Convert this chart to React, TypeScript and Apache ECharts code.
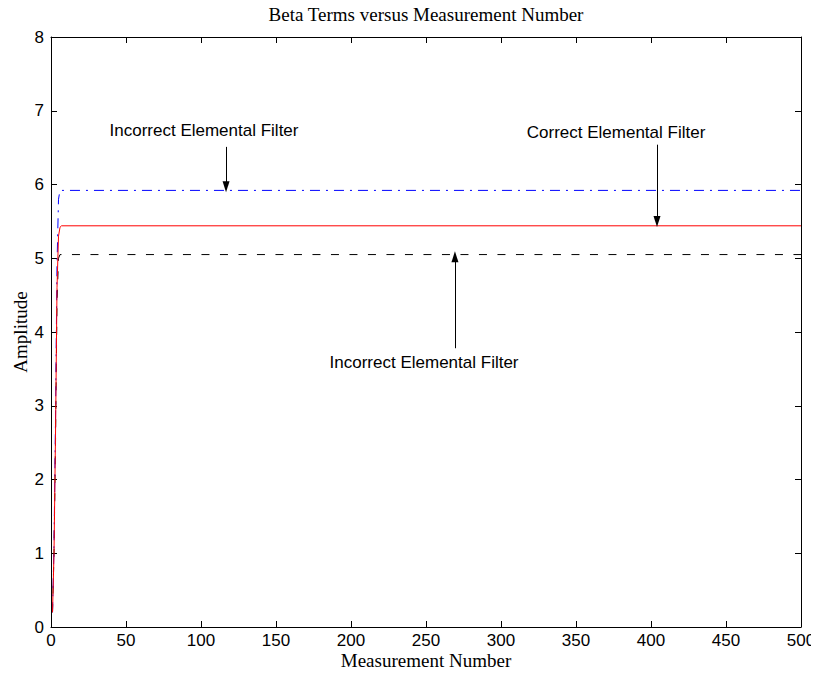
import React, { useEffect, useRef } from "react";
import * as echarts from "echarts";

// Data (measurement number, amplitude)
const correctFilter: [number, number][] = [
  [1, 0.2], [2, 1.0], [3, 2.6], [4, 4.6], [5, 5.3], [6, 5.42], [7, 5.44], [500, 5.44],
];
const incorrectHigh: [number, number][] = [
  [1, 0.2], [2, 1.1], [3, 2.8], [4, 4.9], [5, 5.8], [6, 5.92], [500, 5.92],
];
const incorrectLow: [number, number][] = [
  [1, 0.2], [2, 1.0], [3, 2.5], [4, 4.4], [5, 5.0], [6, 5.05], [500, 5.05],
];

const xTicks = { min: 0, max: 500, interval: 50 };
const yTicks = { min: 0, max: 8, interval: 1 };
const xAxisName = "Measurement Number";
const yAxisName = "Amplitude";
const chartTitle = "Beta Terms versus Measurement Number";

// Annotations: text label positions and arrows (data coords)
const annotationTexts: { text: string; x: number; y: number }[] = [
  { text: "Incorrect Elemental Filter", x: 102, y: 6.73 },
  { text: "Correct Elemental Filter", x: 376.7, y: 6.7 },
  { text: "Incorrect Elemental Filter", x: 248.7, y: 3.58 },
];
const arrows: { x: number; from: number; to: number }[] = [
  { x: 116.7, from: 6.51, to: 5.97 },
  { x: 404, from: 6.54, to: 5.5 },
  { x: 269.3, from: 3.78, to: 5.02 },
];

const SANS = "'Liberation Sans', Arial, sans-serif";
const SERIF = "'Liberation Serif', 'Times New Roman', serif";

export default function App() {
  const ref = useRef<HTMLDivElement>(null);
  useEffect(() => {
    if (!ref.current) return;
    const chart = echarts.init(ref.current, null, { renderer: "svg" });
    const tickStyle = { lineStyle: { color: "#000", width: 1 } };
    const option: any = {
      animation: false,
      backgroundColor: "#fff",
      grid: { left: 51, right: 18, top: 37, bottom: 48, containLabel: false, outerBoundsMode: "none" },
      xAxis: [
        {
          type: "value",
          ...xTicks,
          position: "bottom",
          axisLine: { show: true, onZero: false, lineStyle: { color: "#000", width: 1 } },
          axisTick: { show: true, inside: true, length: 6, ...tickStyle },
          axisLabel: { color: "#000", fontFamily: SANS, fontSize: 17, margin: 5 },
          splitLine: { show: false },
        },
        {
          type: "value",
          ...xTicks,
          position: "top",
          axisLine: { show: true, onZero: false, lineStyle: { color: "#000", width: 1 } },
          axisTick: { show: true, inside: true, length: 6, ...tickStyle },
          axisLabel: { show: false },
          splitLine: { show: false },
        },
      ],
      yAxis: [
        {
          type: "value",
          ...yTicks,
          position: "left",
          axisLine: { show: true, onZero: false, lineStyle: { color: "#000", width: 1 } },
          axisTick: { show: true, inside: true, length: 6, ...tickStyle },
          axisLabel: { color: "#000", fontFamily: SANS, fontSize: 17, margin: 7 },
          splitLine: { show: false },
        },
        {
          type: "value",
          ...yTicks,
          position: "right",
          axisLine: { show: true, onZero: false, lineStyle: { color: "#000", width: 1 } },
          axisTick: { show: true, inside: true, length: 6, ...tickStyle },
          axisLabel: { show: false },
          splitLine: { show: false },
        },
      ],
      series: [
        {
          name: "Incorrect (low)",
          type: "line",
          data: incorrectLow,
          showSymbol: false,
          lineStyle: { color: "#000", width: 1, type: [8, 10.5] },
          z: 2,
        },
        {
          name: "Incorrect (high)",
          type: "line",
          data: incorrectHigh,
          showSymbol: false,
          lineStyle: { color: "#0000ff", width: 1, type: [10, 6, 2, 6] },
          z: 3,
        },
        {
          name: "Correct",
          type: "line",
          data: correctFilter,
          showSymbol: false,
          lineStyle: { color: "#ff0000", width: 1 },
          z: 4,
        },
        {
          name: "arrows",
          type: "line",
          data: [],
          markLine: {
            silent: true,
            animation: false,
            label: { show: false },
            lineStyle: { color: "#000", width: 1, type: "solid" },
            data: arrows.map((a) => [
              { coord: [a.x, a.from], symbol: "none" },
              { coord: [a.x, a.to], symbol: "triangle", symbolSize: [7, 11] },
            ]),
          },
        },
      ],
    };
    chart.setOption(option);
    const toPx = (x: number, y: number) =>
      chart.convertToPixel({ gridIndex: 0 }, [x, y]) as number[];
    const graphics: any[] = annotationTexts.map((t) => {
      const p = toPx(t.x, t.y);
      return {
        type: "text",
        x: p[0],
        y: p[1],
        style: {
          text: t.text,
          fill: "#000",
          font: `17px ${SANS}`,
          textAlign: "center",
          textVerticalAlign: "middle",
        },
      };
    });
    const origin = toPx(xTicks.min, yTicks.min);
    const topRight = toPx(xTicks.max, yTicks.max);
    const midX = (origin[0] + topRight[0]) / 2;
    const midY = (origin[1] + topRight[1]) / 2;
    graphics.push({
      type: "text",
      x: midX,
      y: topRight[1] - 23,
      style: { text: chartTitle, fill: "#000", font: `19px ${SERIF}`, textAlign: "center", textVerticalAlign: "middle" },
    });
    graphics.push({
      type: "text",
      x: midX,
      y: origin[1] + 33,
      style: { text: xAxisName, fill: "#000", font: `19px ${SERIF}`, textAlign: "center", textVerticalAlign: "middle" },
    });
    graphics.push({
      type: "text",
      x: origin[0] - 31,
      y: midY,
      rotation: Math.PI / 2,
      style: { text: yAxisName, fill: "#000", font: `19px ${SERIF}`, textAlign: "center", textVerticalAlign: "middle" },
    });
    chart.setOption({ graphic: graphics });
    return () => chart.dispose();
  }, []);
  return <div ref={ref} style={{ width: 819, height: 675, margin: -8 }} />;
}
